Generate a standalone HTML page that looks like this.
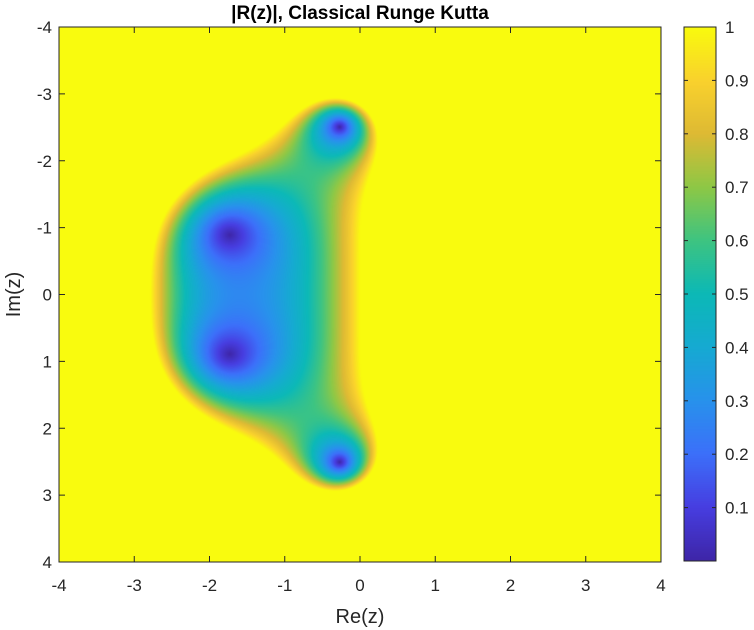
<!DOCTYPE html>
<html><head><meta charset="utf-8"><style>
body{margin:0;background:#fff;width:754px;height:630px;overflow:hidden;font-family:"Liberation Sans",Arial,sans-serif}
#wrap{position:relative;width:754px;height:630px}
canvas{position:absolute}
svg{position:absolute;left:0;top:0}
</style></head><body>
<div id="wrap">
<canvas id="hm" width="602" height="535" style="left:59px;top:27px;width:602px;height:535px"></canvas>
<canvas id="cb" width="32" height="534" style="left:684px;top:27px;width:32px;height:534px"></canvas>
<svg id="ov" width="754" height="630"></svg>
</div>
<script>
// data
const coeffs = [1, 1, 1/2, 1/6, 1/24]; // RK4 stability polynomial R(z)
const reRange = [-4, 4];
const imRange = [-4, 4];
const xTicks = [-4,-3,-2,-1,0,1,2,3,4];
const yTicks = [-4,-3,-2,-1,0,1,2,3,4];
const cTicks = [0.1,0.2,0.3,0.4,0.5,0.6,0.7,0.8,0.9,1];
const cRange = [0, 1];
const titleText = "|R(z)|, Classical Runge Kutta";
const cmapPos = [0,0.1,0.2,0.3,0.4,0.5,0.6,0.7,0.8,0.9,1];
const cmapCol = [[62,38,168],[71,62,225],[60,112,250],[40,146,236],[22,170,210],[12,185,183],[62,196,130],[142,200,70],[222,186,52],[250,210,45],[249,251,14]];

const L=59,R=661,T=27,B=562;
const xs=v=>L+(v-reRange[0])/(reRange[1]-reRange[0])*(R-L);
const ys=v=>T+(v-imRange[0])/(imRange[1]-imRange[0])*(B-T);
function cmap(t){t=Math.max(0,Math.min(1,(t-cRange[0])/(cRange[1]-cRange[0])));
 for(let i=0;i<cmapPos.length-1;i++){if(t<=cmapPos[i+1]){const f=(t-cmapPos[i])/(cmapPos[i+1]-cmapPos[i]);const a=cmapCol[i],b=cmapCol[i+1];return [a[0]+(b[0]-a[0])*f,a[1]+(b[1]-a[1])*f,a[2]+(b[2]-a[2])*f];}}
 return cmapCol[cmapCol.length-1];}
function absR(x,y){let pr=0,pi=0;for(let k=coeffs.length-1;k>=0;k--){const nr=pr*x-pi*y+coeffs[k];const ni=pr*y+pi*x;pr=nr;pi=ni;}return Math.hypot(pr,pi);}
// heatmap
const hc=document.getElementById('hm'),hx=hc.getContext('2d');
const W=hc.width,H=hc.height,img=hx.createImageData(W,H);
for(let j=0;j<H;j++){const y=imRange[0]+(j+0.5)/H*(imRange[1]-imRange[0]);
 for(let i=0;i<W;i++){const x=reRange[0]+(i+0.5)/W*(reRange[1]-reRange[0]);
  const c=cmap(Math.min(1,absR(x,y)));const o=(j*W+i)*4;img.data[o]=c[0];img.data[o+1]=c[1];img.data[o+2]=c[2];img.data[o+3]=255;}}
hx.putImageData(img,0,0);
// colorbar
const cc=document.getElementById('cb'),cx=cc.getContext('2d');
for(let j=0;j<cc.height;j++){const c=cmap(1-j/(cc.height-1));cx.fillStyle=`rgb(${c[0]|0},${c[1]|0},${c[2]|0})`;cx.fillRect(0,j,cc.width,1);}
// overlay
const svg=document.getElementById('ov');const NS='http://www.w3.org/2000/svg';
function el(t,a,p){const e=document.createElementNS(NS,t);for(const k in a)e.setAttribute(k,a[k]);(p||svg).appendChild(e);return e;}
let e=el('rect',{x:L,y:T,width:R-L,height:B-T,fill:'none',stroke:'#262626','stroke-width':1});


xTicks.forEach(v=>{const x=xs(v);
 el('line',{x1:x,x2:x,y1:B,y2:B-6,stroke:'#262626'});el('line',{x1:x,x2:x,y1:T,y2:T+6,stroke:'#262626'});
 const t=el('text',{x:x,y:B+29,'text-anchor':'middle','font-size':17,fill:'#262626'});t.textContent=v;
 
 });
yTicks.forEach(v=>{const y=ys(v);
 el('line',{x1:L,x2:L+6,y1:y,y2:y,stroke:'#262626'});el('line',{x1:R,x2:R-6,y1:y,y2:y,stroke:'#262626'});
 const t=el('text',{x:L-7,y:y+6,'text-anchor':'end','font-size':17,fill:'#262626'});t.textContent=v;
 
 });
const cbL=684,cbR=716,cbT=27,cbB=561;
e=el('rect',{x:cbL,y:cbT,width:cbR-cbL,height:cbB-cbT,fill:'none',stroke:'#262626'});


cTicks.forEach(v=>{const y=cbB-(v-cRange[0])/(cRange[1]-cRange[0])*(cbB-cbT);
 el('line',{x1:cbL,x2:cbL+4,y1:y,y2:y,stroke:'#262626'});el('line',{x1:cbR,x2:cbR-4,y1:y,y2:y,stroke:'#262626'});
 const t=el('text',{x:cbR+9,y:y+6,'font-size':17,fill:'#262626'});t.textContent=v;
 
 });
e=el('text',{x:(L+R)/2,y:19,'text-anchor':'middle','font-size':19,'font-weight':'bold',fill:'#000'});e.textContent=titleText;


e=el('text',{x:(L+R)/2,y:623,'text-anchor':'middle','font-size':20,fill:'#262626'});e.textContent='Re(z)';


e=el('text',{x:0,y:0,'text-anchor':'middle','font-size':20,fill:'#262626',transform:`translate(20,${(T+B)/2}) rotate(-90)`});e.textContent='Im(z)';


</script>
</body></html>
